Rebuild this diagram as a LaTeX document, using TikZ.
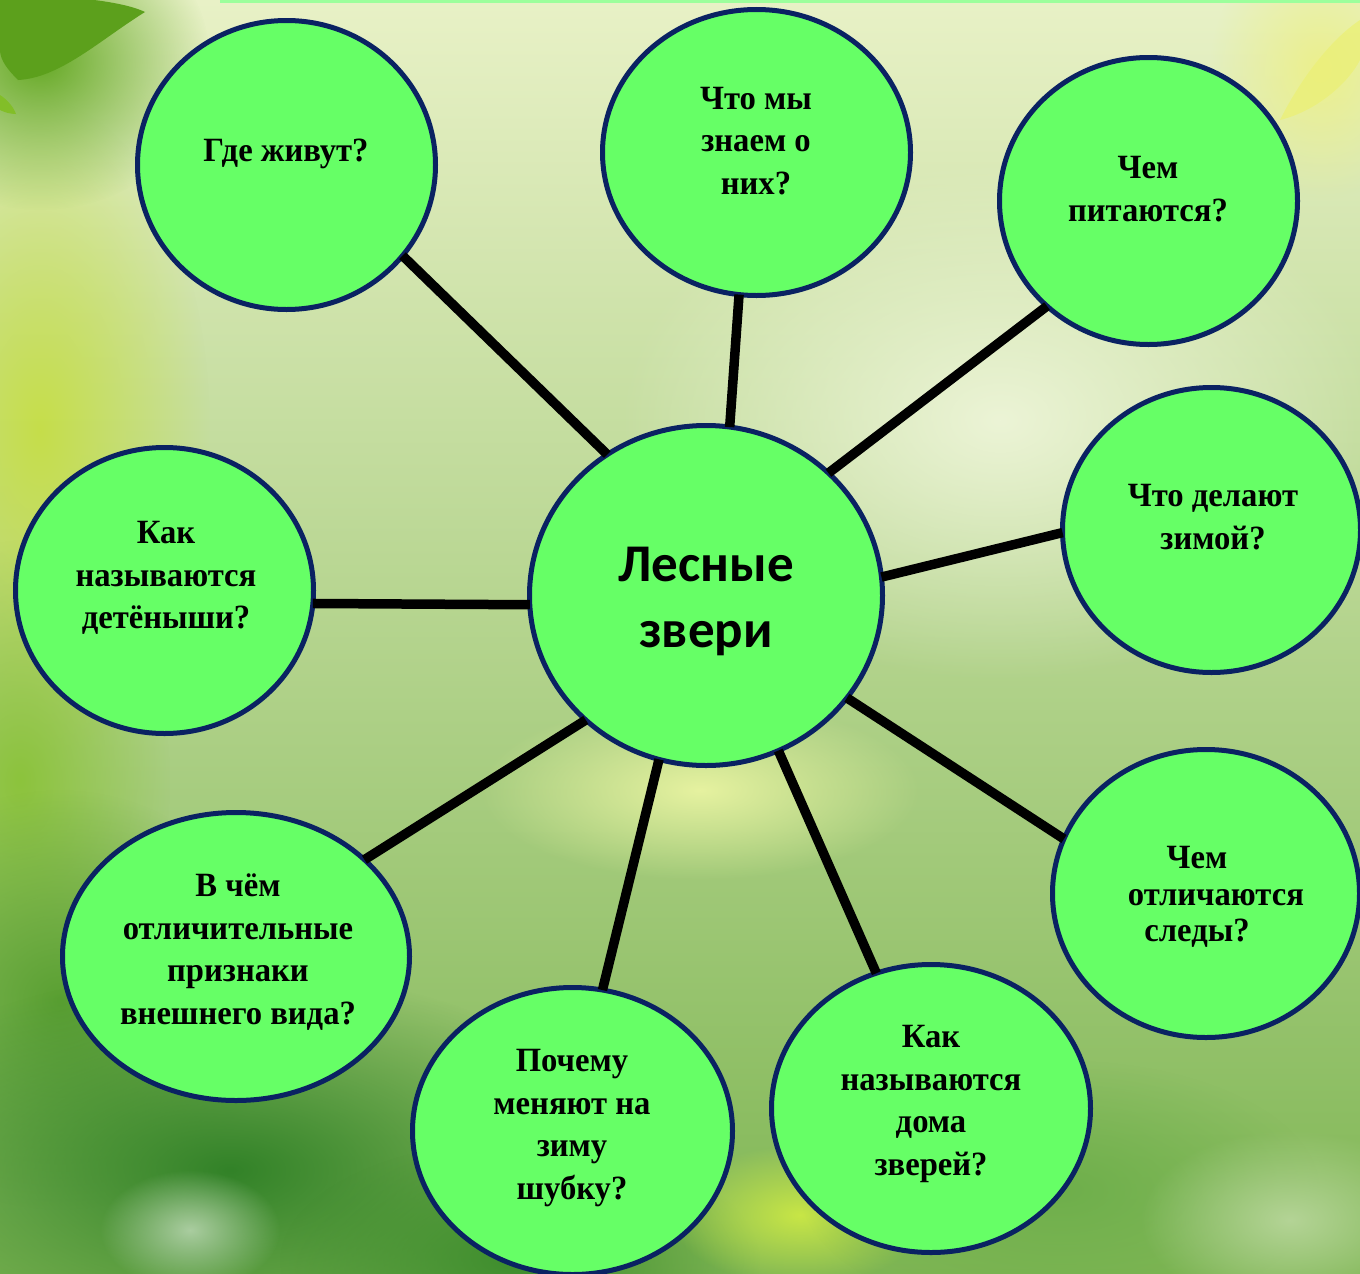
\documentclass[tikz,border=0pt]{standalone}
\usepackage{fontspec}
\usetikzlibrary{shapes.geometric,fadings,backgrounds}
\newfontfamily\qfont{Liberation Serif}[FakeStretch=0.96]
\newfontfamily\cfont{Carlito}
\definecolor{bubblefill}{HTML}{66FF66}
\definecolor{bubbleline}{HTML}{0A2262}
\definecolor{bgtop}{HTML}{E8F1C6}
\definecolor{bgmid}{HTML}{D8E8B4}
\definecolor{bgbot}{HTML}{7FB654}
\definecolor{strip}{HTML}{9CFF9C}
\tikzfading[name=blobfade, inner color=transparent!0, outer color=transparent!100]
\begin{document}
\begin{tikzpicture}[x=1pt,y=-1pt,
  bubble/.style={ellipse, draw=bubbleline, line width=5pt, fill=bubblefill, inner sep=0pt, outer sep=0pt},
  qtext/.style={font=\qfont\bfseries\fontsize{34}{42.5}\selectfont, align=center, inner sep=0pt},
  hubtext/.style={font=\cfont\bfseries\fontsize{53}{66}\selectfont, align=center, inner sep=0pt},
  link/.style={line width=9.5pt, draw=black},
  blob/.style={path fading=blobfade}]
\useasboundingbox (0,0) rectangle (1360,1274);
\clip (0,0) rectangle (1360,1274);
% background
\shade[top color=bgtop, middle color=bgmid, bottom color=bgbot] (0,0) rectangle (1360,1274);
\fill[blob, color={rgb,255:red,198;green,222;blue,74}] (40,430) ellipse (170 and 330);
\fill[blob, color={rgb,255:red,140;green,195;blue,60}] (20,780) ellipse (150 and 240);
\fill[blob, color={rgb,255:red,90;green,160;blue,50}] (60,1000) ellipse (220 and 210);
\fill[blob, color={rgb,255:red,50;green,130;blue,40}] (230,1170) ellipse (400 and 200);
\fill[blob, color={rgb,255:red,60;green,140;blue,44}] (520,1260) ellipse (240 and 120);
\fill[blob, color={rgb,255:red,170;green,205;blue,160}] (190,1230) ellipse (90 and 60);
\fill[blob, color={rgb,255:red,200;green,230;blue,70}] (800,1215) ellipse (130 and 70);
\fill[blob, color={rgb,255:red,110;green,175;blue,75}] (1060,1190) ellipse (260 and 130);
\fill[blob, color={rgb,255:red,180;green,212;blue,150}] (1290,1220) ellipse (150 and 90);
\fill[blob, color={rgb,255:red,230;green,242;blue,160}] (700,790) ellipse (220 and 90);
\fill[blob, color={rgb,255:red,236;green,244;blue,214}] (1000,420) ellipse (380 and 260);
\fill[blob, color={rgb,255:red,100;green,168;blue,36}] (40,60) ellipse (170 and 150);
\fill[blob, color={rgb,255:red,236;green,240;blue,140}] (1320,70) ellipse (110 and 130);
% leaves
\fill[color={rgb,255:red,92;green,160;blue,28}] (0,-5) .. controls (60,-5) and (120,0) .. (145,12) .. controls (100,40) and (60,78) .. (18,80) .. controls (8,70) and (0,60) .. (0,50) -- cycle;
\fill[color={rgb,255:red,130;green,190;blue,40}] (0,95) .. controls (8,100) and (14,108) .. (16,114) .. controls (10,114) and (4,112) .. (0,110) -- cycle;
\fill[color={rgb,255:red,235;green,240;blue,120}, opacity=0.8] (1360,20) .. controls (1330,40) and (1300,80) .. (1280,120) .. controls (1320,110) and (1350,80) .. (1360,60) -- cycle;
\fill[strip] (220,0) rectangle (1360,3);
% bubbles
\node[bubble, minimum width=353, minimum height=340] (hub) at (706,595.5) {};
\node[bubble, minimum width=298, minimum height=289] (q1) at (286.5,165) {};
\node[bubble, minimum width=308, minimum height=286] (q2) at (756.5,152.5) {};
\node[bubble, minimum width=298, minimum height=287] (q3) at (1148.5,201) {};
\node[bubble, minimum width=298, minimum height=285] (q4) at (1211.5,530) {};
\node[bubble, minimum width=298, minimum height=286] (q5) at (164.5,590.5) {};
\node[bubble, minimum width=347, minimum height=288] (q7) at (236,956.5) {};
\node[bubble, minimum width=320, minimum height=287] (q8) at (572.5,1131) {};
\node[bubble, minimum width=319, minimum height=288] (q9) at (931,1108.5) {};
\node[bubble, minimum width=307, minimum height=288] (q10) at (1206,893.5) {};
% connectors
\draw[link] (q1.-38.3) -- (hub.125.5);
\draw[link] (q2.263) -- (hub.82.4);
\draw[link] (q3.226) -- (hub.45.2);
\draw[link] (q4.181.6) -- (hub.6.2);
\draw[link] (q5.-5.6) -- (hub.183.2);
\draw[link] (q7.37.5) -- (hub.226);
\draw[link] (q8.78.3) -- (hub.254);
\draw[link] (q9.112.4) -- (hub.-65.2);
\draw[link] (q10.159) -- (hub.-36.4);
% texts
\node[hubtext] (th) at (706,601) {Лесные\\звери};
\node[qtext] (t1) at (286,154) {Где живут?};
\node[qtext] (t2) at (756,141) {Что мы\\знаем о\\них?};
\node[qtext] (t3) at (1148,189) {Чем\\питаются?};
\node[qtext] (t4) at (1213,517) {Что делают\\зимой?};
\node[qtext] (t5) at (166,578) {Как\\называются\\детёныши?};
\node[qtext] (t7) at (238,952) {В чём\\отличительные\\признаки\\внешнего вида?};
\node[qtext] (t8) at (572,1128) {Почему\\меняют на\\зиму\\шубку?};
\node[qtext] (t9) at (931,1104) {Как\\называются\\дома\\зверей?};
\node[qtext, font=\qfont\bfseries\fontsize{34}{36.5}\selectfont] (t10) at (1216,897) {Чем\hspace*{38pt}\\отличаются\\следы?\hspace*{38pt}};
\end{tikzpicture}
\end{document}
